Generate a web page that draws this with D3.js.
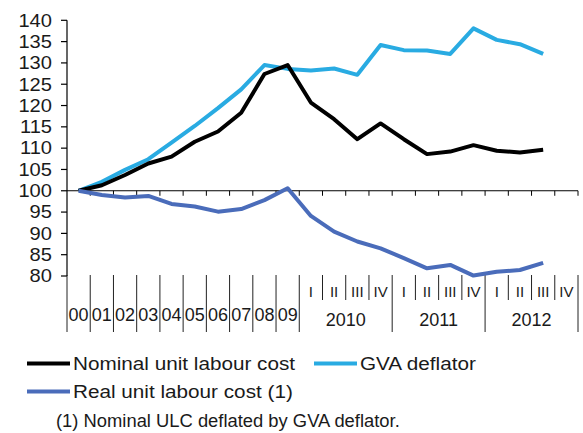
<!DOCTYPE html>
<html lang="en">
<head>
  <meta charset="UTF-8">
  <title>Unit labour costs</title>
  <script src="https://d3js.org/d3.v7.min.js"></script>
  <style>
    body { margin: 0; background: #fff; }
    svg { display: block; font-family: "Liberation Sans", Arial, sans-serif; }
  </style>
</head>
<body>
  <svg width="583" height="433"></svg>

  <script>
    // categories: 2000-2009 annual, then quarters 2010-2012
    const annualLabels = ["00", "01", "02", "03", "04", "05", "06", "07", "08", "09"];
    const yearLabels = ["2010", "2011", "2012"];
    const quarterLabels = ["I", "II", "III", "IV"];
    const yTicks = [80, 85, 90, 95, 100, 105, 110, 115, 120, 125, 130, 135, 140];

    const nominalULC = [100, 101.3, 103.7, 106.4, 108.0, 111.5, 113.9, 118.3, 127.4, 129.5,
      120.7, 116.8, 112.1, 115.8, 112.1, 108.6, 109.2, 110.7, 109.4, 109.0, 109.6];
    const gvaDeflator = [100, 102.1, 104.9, 107.4, 111.3, 115.2, 119.4, 123.8, 129.5, 128.6,
      128.2, 128.7, 127.2, 134.2, 133.0, 132.9, 132.1, 138.1, 135.4, 134.4, 132.1];
    const realULC = [100, 99.0, 98.4, 98.8, 96.9, 96.3, 95.1, 95.7, 97.8, 100.6,
      94.1, 90.4, 88.1, 86.5, 84.2, 81.8, 82.6, 80.1, 81.0, 81.4, 83.1];

    const categories = annualLabels.concat(
      yearLabels.flatMap(yr => quarterLabels.map(q => yr + " " + q))
    );

    const svg = d3.select("svg");
    const x = d3.scaleBand().domain(categories).range([67, 578]).padding(0);
    const y = d3.scaleLinear().domain([80, 140]).range([276, 20.3]);
    const bw = x.bandwidth();
    const cx = i => x(categories[i]) + bw / 2;
    const edge = i => 67 + i * bw;

    // stretched text helper (source fonts are a little wider than Arial)
    function label(g, tx, ty, str, size, sx, anchor) {
      return g.append("text")
        .attr("transform", `translate(${tx},${ty}) scale(${sx},1)`)
        .attr("text-anchor", anchor || "start")
        .attr("font-size", size + "px")
        .attr("fill", "#1a1a1a")
        .text(str);
    }

    // y axis
    const ya = svg.append("g");
    ya.append("line")
      .attr("x1", 67).attr("x2", 67)
      .attr("y1", y(140)).attr("y2", y(80))
      .attr("stroke", "#000").attr("stroke-width", 1.2);
    yTicks.forEach(t => {
      ya.append("line")
        .attr("x1", 61).attr("x2", 67)
        .attr("y1", y(t)).attr("y2", y(t))
        .attr("stroke", "#000").attr("stroke-width", 1.2);
      label(ya, 52, y(t) + 6.3, t, 17.5, 1.15, "end");
    });

    // horizontal axis at 100
    const xa = svg.append("g");
    xa.append("line")
      .attr("x1", 67).attr("x2", 578)
      .attr("y1", y(100)).attr("y2", y(100))
      .attr("stroke", "#000").attr("stroke-width", 1.2);
    d3.range(1, categories.length + 1).forEach(i => {
      xa.append("line")
        .attr("x1", edge(i)).attr("x2", edge(i))
        .attr("y1", y(100)).attr("y2", y(100) + 5)
        .attr("stroke", "#000").attr("stroke-width", 1);
    });

    // category labels below the plot
    const lab = svg.append("g");
    d3.range(0, categories.length + 1).forEach(i => {
      const isQuarterInner = i > 10 && (i - 10) % 4 !== 0;
      lab.append("line")
        .attr("x1", edge(i)).attr("x2", edge(i))
        .attr("y1", 275).attr("y2", isQuarterInner ? 300 : 332)
        .attr("stroke", "#222").attr("stroke-width", 1);
    });
    annualLabels.forEach((d, i) => {
      label(lab, cx(i), 321, d, 18, 1.0, "middle");
    });
    yearLabels.forEach((yr, k) => {
      quarterLabels.forEach((q, j) => {
        const i = 10 + k * 4 + j;
        label(lab, cx(i), 297, q, 15, 1.0, "middle");
      });
      const mid = (edge(10 + k * 4) + edge(14 + k * 4)) / 2;
      label(lab, mid, 326, yr, 18, 1.0, "middle");
    });

    // series
    const series = [
      { name: "GVA deflator", values: gvaDeflator, color: "#29abe2" },
      { name: "Nominal unit labour cost", values: nominalULC, color: "#000000" },
      { name: "Real unit labour cost (1)", values: realULC, color: "#4a6cba" }
    ];
    const line = d3.line()
      .x((d, i) => cx(i))
      .y(d => y(d));
    svg.append("g").selectAll("path")
      .data(series)
      .enter()
      .append("path")
      .attr("d", d => line(d.values))
      .attr("fill", "none")
      .attr("stroke", d => d.color)
      .attr("stroke-width", 4)
      .attr("stroke-linejoin", "round");

    // legend
    const legendItems = [
      { s: series[1], x: 27, y: 363.5 },
      { s: series[0], x: 314, y: 363.5 },
      { s: series[2], x: 27, y: 391.5 }
    ];
    const lg = svg.append("g");
    legendItems.forEach(it => {
      lg.append("line")
        .attr("x1", it.x).attr("x2", it.x + 43)
        .attr("y1", it.y).attr("y2", it.y)
        .attr("stroke", it.s.color).attr("stroke-width", 4);
      label(lg, it.x + 46, it.y + 6.6, it.s.name, 18.5, 1.12);
    });

    // footnote
    label(svg, 56, 427, "(1) Nominal ULC deflated by GVA deflator.", 17.5, 1.05);
  </script>
</body>
</html>
